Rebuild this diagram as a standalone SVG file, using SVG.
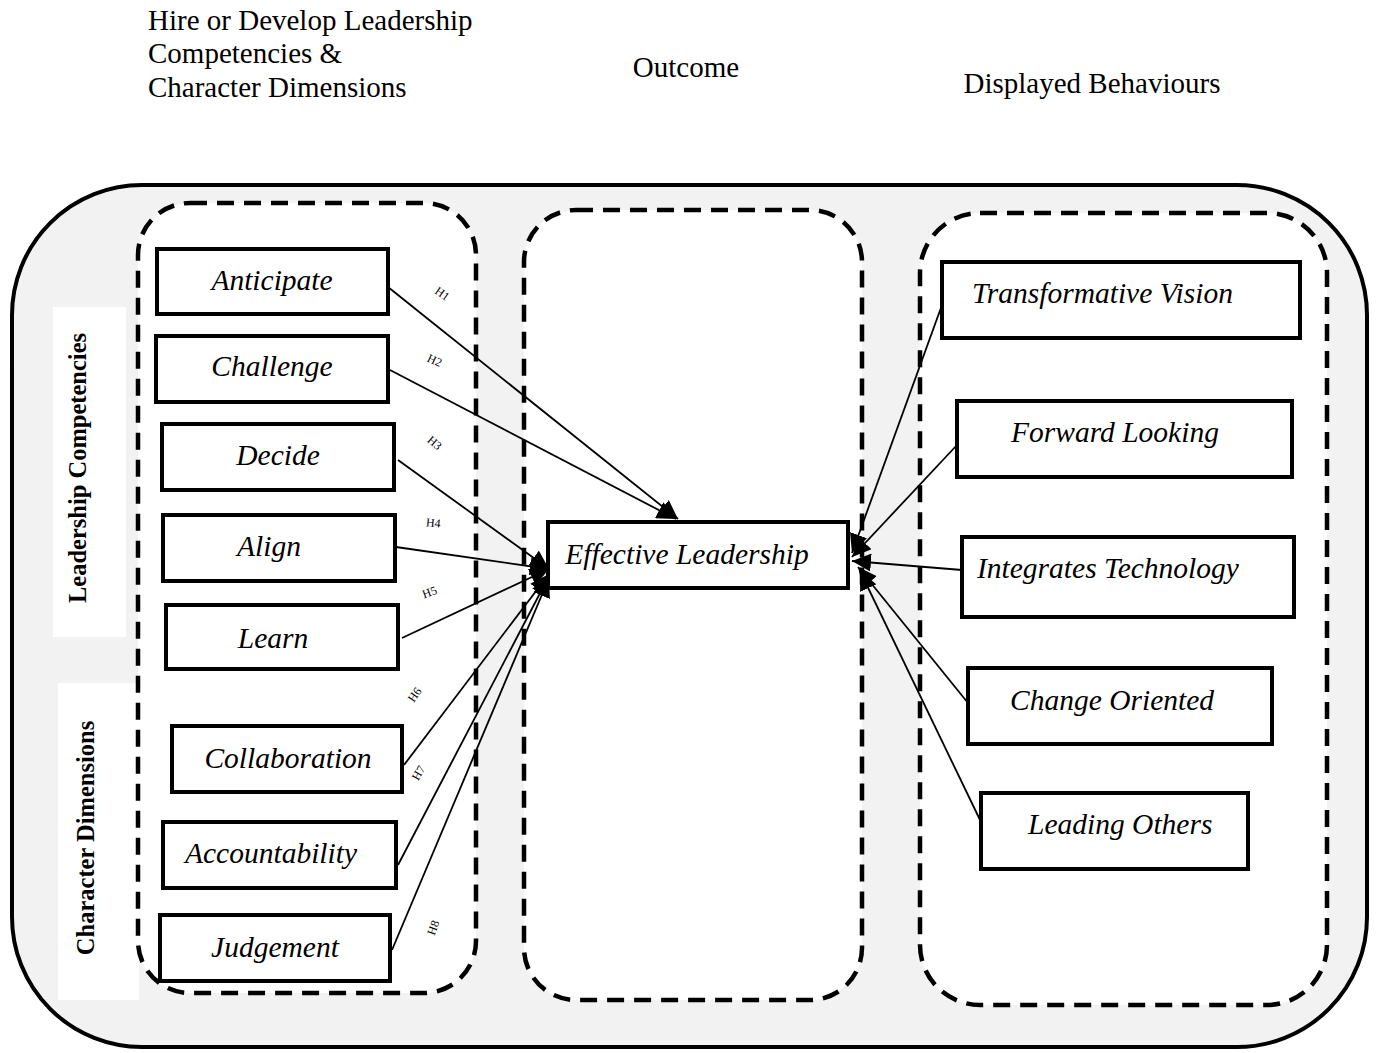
<svg xmlns="http://www.w3.org/2000/svg" width="1376" height="1053" viewBox="0 0 1376 1053">
<style>
.hdr{font-family:"Liberation Serif",serif;font-size:29px;fill:#000}
.lbl{font-family:"Liberation Serif",serif;font-size:29.5px;font-style:italic;fill:#000}
.side{font-family:"Liberation Serif",serif;font-size:24.5px;font-weight:bold;fill:#000}
.h{font-family:"Liberation Serif",serif;font-size:12px;fill:#000}
.box{fill:#fff;stroke:#000;stroke-width:4}
.dash{fill:#fff;stroke:#000;stroke-width:4.5;stroke-dasharray:17 10}
.con{stroke:#000;stroke-width:1.8;fill:none;marker-end:url(#ah)}
</style>
<defs>
<marker id="ah" markerUnits="userSpaceOnUse" markerWidth="22" markerHeight="18" refX="19" refY="9" orient="auto">
<path d="M0,0 L19,9 L0,18 Z" fill="#000"/>
</marker>
</defs>
<rect width="1376" height="1053" fill="#fff"/>
<g id="headers">
<text class="hdr" x="148" y="30">Hire or Develop Leadership</text>
<text class="hdr" x="148" y="63">Competencies &amp;</text>
<text class="hdr" x="148" y="97">Character Dimensions</text>
<text class="hdr" x="686" y="77" text-anchor="middle">Outcome</text>
<text class="hdr" x="1092" y="93" text-anchor="middle">Displayed Behaviours</text>
</g>
<g id="frame">
<rect x="12" y="185" width="1355" height="862" rx="130" ry="130" fill="#f2f2f2" stroke="#000" stroke-width="4"/>
<rect x="53" y="307" width="73" height="330" fill="#fff"/>
<rect x="58" y="683" width="81" height="317" fill="#fff"/>
<text class="side" transform="translate(86,468) rotate(-90)" text-anchor="middle">Leadership Competencies</text>
<text class="side" transform="translate(94,838) rotate(-90)" text-anchor="middle">Character Dimensions</text>
<rect class="dash" x="138" y="203" width="338" height="790" rx="52" ry="52"/>
<rect class="dash" x="524" y="210" width="338" height="790" rx="52" ry="52"/>
<rect class="dash" x="920" y="213" width="407" height="792" rx="60" ry="60"/>
</g>
<g id="connectors">
<line class="con" x1="388" y1="287" x2="678" y2="519"/>
<line class="con" x1="390" y1="370" x2="676" y2="519"/>
<line class="con" x1="398" y1="460" x2="549" y2="569"/>
<line class="con" x1="396" y1="547" x2="549" y2="569"/>
<line class="con" x1="402" y1="638" x2="549" y2="569"/>
<line class="con" x1="404" y1="765" x2="549" y2="574"/>
<line class="con" x1="398" y1="865" x2="549" y2="576"/>
<line class="con" x1="392" y1="950" x2="549" y2="578"/>
<line class="con" x1="942" y1="305" x2="852" y2="553"/>
<line class="con" x1="957" y1="445" x2="852" y2="557"/>
<line class="con" x1="962" y1="570" x2="852" y2="561"/>
<line class="con" x1="968" y1="703" x2="858" y2="567"/>
<line class="con" x1="981" y1="822" x2="860" y2="571"/>
<text class="h" transform="translate(440,297) rotate(35)" text-anchor="middle">H1</text>
<text class="h" transform="translate(433,364) rotate(25)" text-anchor="middle">H2</text>
<text class="h" transform="translate(432,446) rotate(40)" text-anchor="middle">H3</text>
<text class="h" transform="translate(433,527) rotate(5)" text-anchor="middle">H4</text>
<text class="h" transform="translate(431,596) rotate(-20)" text-anchor="middle">H5</text>
<text class="h" transform="translate(418,697) rotate(-55)" text-anchor="middle">H6</text>
<text class="h" transform="translate(422,775) rotate(-60)" text-anchor="middle">H7</text>
<text class="h" transform="translate(437,929) rotate(-70)" text-anchor="middle">H8</text>
</g>
<g id="anticipate"><rect class="box" x="157" y="249" width="231" height="65"/><text class="lbl" x="272" y="290" text-anchor="middle">Anticipate</text></g>
<g id="challenge"><rect class="box" x="156" y="336" width="232" height="66"/><text class="lbl" x="272" y="376" text-anchor="middle">Challenge</text></g>
<g id="decide"><rect class="box" x="162" y="424" width="232" height="66"/><text class="lbl" x="278" y="465" text-anchor="middle">Decide</text></g>
<g id="align"><rect class="box" x="163" y="515" width="232" height="66"/><text class="lbl" x="269" y="556" text-anchor="middle">Align</text></g>
<g id="learn"><rect class="box" x="166" y="605" width="232" height="64"/><text class="lbl" x="273" y="648" text-anchor="middle">Learn</text></g>
<g id="collaboration"><rect class="box" x="172" y="726" width="230" height="66"/><text class="lbl" x="288" y="768" text-anchor="middle">Collaboration</text></g>
<g id="accountability"><rect class="box" x="163" y="822" width="233" height="66"/><text class="lbl" x="271" y="863" text-anchor="middle">Accountability</text></g>
<g id="judgement"><rect class="box" x="160" y="915" width="230" height="66"/><text class="lbl" x="275" y="957" text-anchor="middle">Judgement</text></g>
<g id="effective-leadership"><rect class="box" x="548" y="522" width="300" height="66"/><text class="lbl" x="687" y="564" text-anchor="middle">Effective Leadership</text></g>
<g id="transformative-vision"><rect class="box" x="942" y="262" width="358" height="76"/><text class="lbl" x="972" y="303">Transformative Vision</text></g>
<g id="forward-looking"><rect class="box" x="957" y="401" width="335" height="76"/><text class="lbl" x="1011" y="442">Forward Looking</text></g>
<g id="integrates-technology"><rect class="box" x="962" y="537" width="332" height="80"/><text class="lbl" x="977" y="578">Integrates Technology</text></g>
<g id="change-oriented"><rect class="box" x="968" y="668" width="304" height="76"/><text class="lbl" x="1010" y="710">Change Oriented</text></g>
<g id="leading-others"><rect class="box" x="981" y="793" width="267" height="76"/><text class="lbl" x="1028" y="834">Leading Others</text></g>
</svg>
